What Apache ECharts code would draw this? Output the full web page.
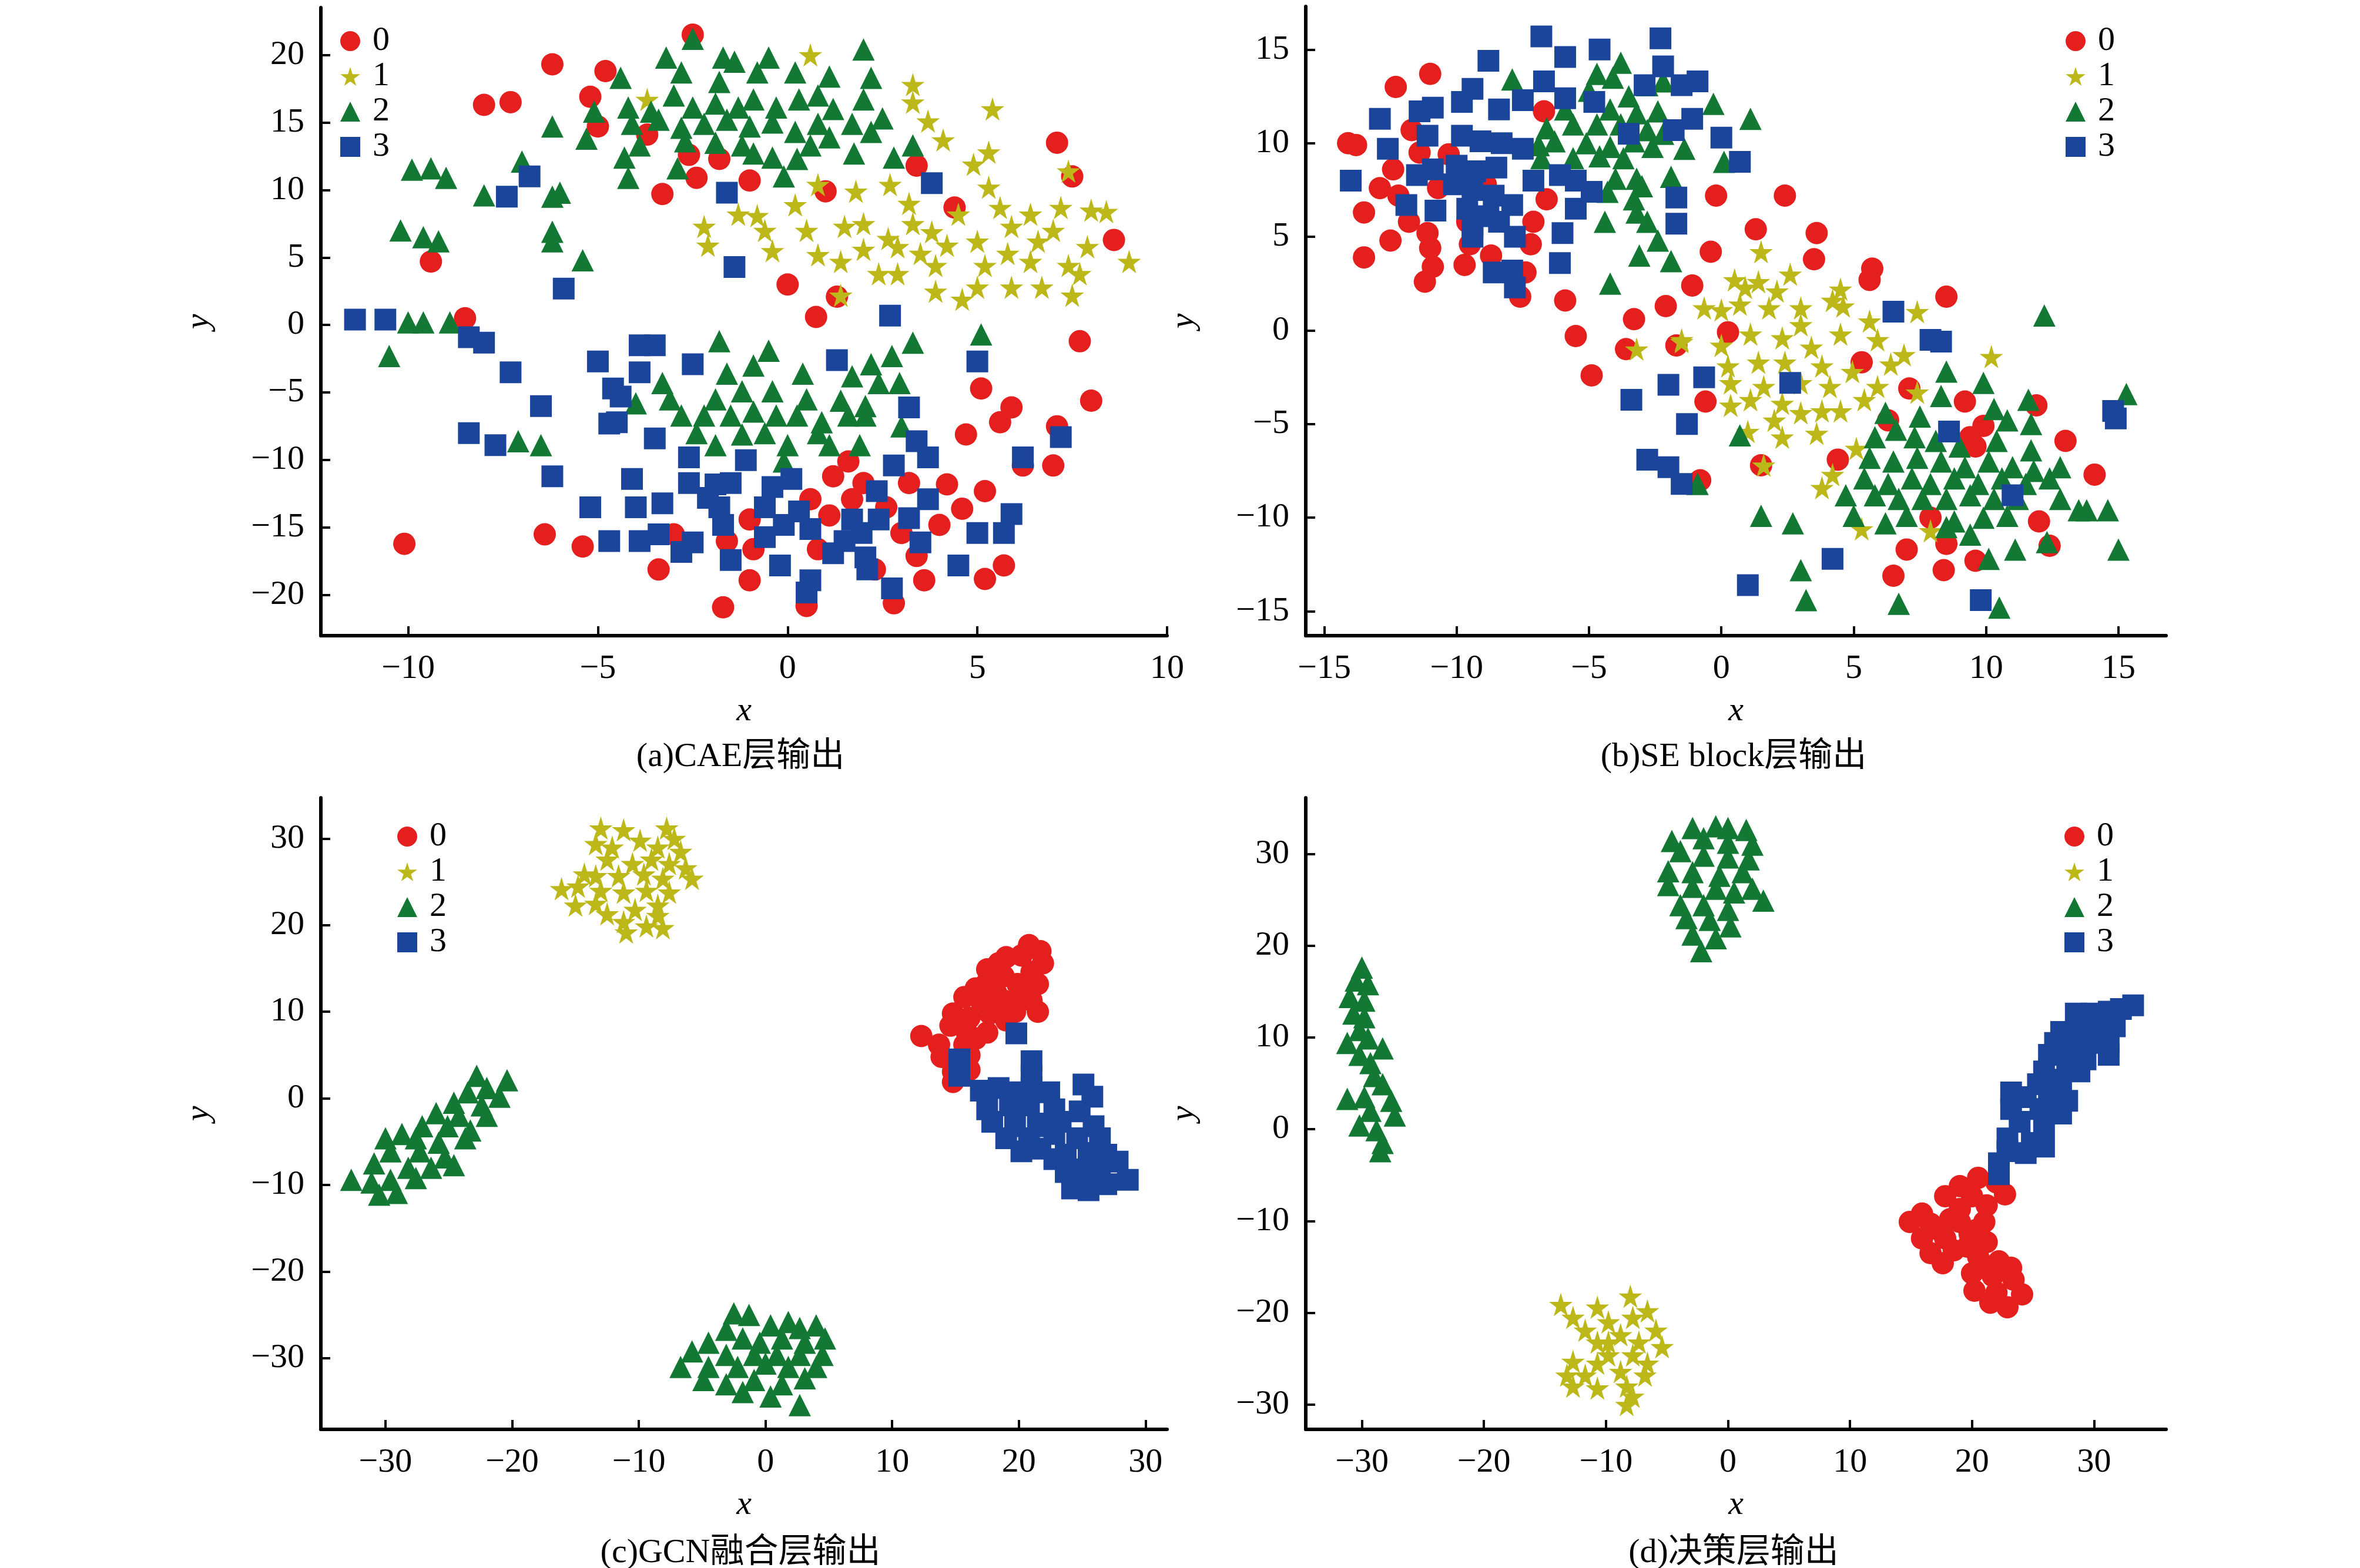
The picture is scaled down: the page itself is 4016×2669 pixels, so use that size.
<!DOCTYPE html>
<html lang="zh">
<head>
<meta charset="UTF-8">
<title>t-SNE 各层输出</title>
<style>
  html, body { margin: 0; padding: 0; background: #fff; }
  #main { width: 4016px; height: 2669px; }
</style>
</head>
<body>
<div id="main"></div>
<script src="https://cdn.jsdelivr.net/npm/echarts@6/dist/echarts.min.js"></script>
<script>
// ---- (a) CAE层输出 ----
var a0 = [[-2.5,21.5],[-6.2,19.3],[-4.8,18.8],[-8.0,16.3],[-7.3,16.5],[-5.2,16.9],[-5.0,14.7],[-3.7,14.1],[-2.6,12.6],[-1.8,12.3],[-1.0,10.7],[-2.4,10.9],[-3.3,9.7],[1.0,9.9],[3.4,11.8],[7.1,13.5],[7.5,11.0],[8.6,6.3],[4.4,8.7],[0.0,3.0],[1.3,2.1],[0.75,0.6],[-9.4,4.7],[-8.5,0.5],[-10.1,-16.2],[7.7,-1.2],[5.1,-4.7],[8.0,-5.6],[5.9,-6.1],[5.6,-7.2],[4.7,-8.1],[7.1,-7.5],[7.0,-10.4],[6.2,-10.4],[1.6,-10.1],[4.2,-11.8],[5.2,-12.3],[3.2,-11.7],[4.6,-13.6],[1.2,-11.2],[2.0,-11.7],[4.0,-14.8],[3.0,-15.4],[0.6,-12.9],[1.1,-14.1],[-1.0,-14.4],[-1.6,-16.0],[-3.0,-15.5],[-0.9,-16.6],[-6.4,-15.5],[-5.4,-16.4],[-3.4,-18.1],[-1.0,-18.9],[-1.7,-20.9],[0.5,-20.8],[2.8,-20.6],[3.6,-18.9],[5.2,-18.8],[5.7,-17.8],[3.4,-17.1],[0.8,-16.6],[2.3,-18.1],[1.7,-12.9],[2.6,-13.5]];
var a1 = [[0.6,20.0],[-3.7,16.7],[3.3,17.8],[3.3,16.5],[3.7,15.1],[5.4,16.0],[4.1,13.7],[5.3,12.8],[4.9,11.9],[7.4,11.4],[5.3,10.2],[0.8,10.4],[1.8,9.9],[2.7,10.4],[-2.2,7.3],[-2.1,5.9],[-1.3,8.2],[-0.8,8.1],[0.2,8.9],[0.5,7.0],[-0.6,7.0],[-0.4,5.5],[0.8,5.2],[1.4,4.7],[1.4,2.2],[2.0,5.6],[1.5,7.3],[2.4,3.8],[2.9,3.8],[2.65,6.4],[3.2,9.0],[3.3,7.5],[3.8,6.9],[3.5,5.3],[3.9,4.4],[3.9,2.5],[4.6,1.9],[4.5,8.2],[5.0,6.2],[5.2,4.4],[5.0,2.8],[5.6,8.7],[5.9,7.3],[6.4,8.2],[5.8,5.3],[5.9,2.8],[6.4,4.7],[6.7,2.8],[7.0,7.0],[7.2,8.7],[6.6,6.2],[7.4,4.4],[7.7,3.8],[7.5,2.2],[7.9,5.8],[8.0,8.5],[8.4,8.4],[9.0,4.7],[2.9,5.8],[2.0,7.5],[4.2,5.9]];
var a2 = [[-2.5,21.2],[-3.2,19.8],[-1.7,19.8],[-1.4,19.5],[-0.5,19.8],[2.0,20.4],[-4.4,18.3],[-2.8,18.7],[-1.8,18.0],[-0.8,18.7],[0.2,18.7],[1.1,18.4],[2.2,18.3],[-5.1,15.8],[-4.2,16.1],[-3.6,15.8],[-3.0,17.0],[-2.5,16.1],[-1.9,16.4],[-1.3,16.1],[-0.9,16.7],[-0.3,16.1],[0.3,16.7],[0.8,17.0],[1.2,16.0],[2.0,16.7],[2.5,15.3],[-6.2,14.7],[-5.3,13.8],[-4.1,14.9],[-3.4,15.2],[-2.8,14.6],[-2.2,14.9],[-1.6,15.2],[-1.0,14.7],[-0.4,15.0],[0.2,14.3],[0.8,14.9],[1.7,14.9],[2.2,14.3],[-4.3,12.4],[-3.9,13.3],[-2.7,13.6],[-1.9,13.5],[-1.2,13.3],[-0.9,12.7],[-0.4,12.4],[0.25,12.3],[0.6,13.3],[1.1,13.9],[1.75,12.7],[2.8,12.4],[3.3,13.3],[-4.2,10.9],[-2.9,11.6],[-0.1,11.0],[-7.0,12.1],[-9.9,11.5],[-9.4,11.6],[-9.0,10.9],[-8.0,9.6],[-6.2,9.5],[-6.0,9.8],[-10.2,7.0],[-9.6,6.5],[-9.2,6.2],[-6.2,6.9],[-6.2,6.2],[-5.4,4.8],[-10.0,0.2],[-9.6,0.2],[-8.9,0.2],[-10.5,-2.3],[-7.1,-8.6],[-6.5,-8.9],
  [-1.8,-1.2],[-0.5,-1.9],[3.3,-1.3],[5.1,-0.7],[2.75,-2.3],[2.2,-2.9],[-3.3,-4.3],[-1.6,-3.6],[-0.9,-3.0],[0.4,-3.6],[1.7,-3.8],[2.4,-4.3],[2.95,-4.3],[-4.0,-5.8],[-3.1,-5.5],[-1.9,-5.5],[-1.2,-4.9],[-0.4,-4.9],[0.5,-5.5],[1.4,-5.6],[2.05,-6.0],[-2.8,-6.7],[-2.2,-6.7],[-1.5,-6.7],[-0.9,-6.4],[-0.3,-6.7],[0.25,-6.7],[0.9,-7.2],[1.6,-6.7],[2.05,-6.7],[-2.4,-8.0],[-1.9,-8.9],[-1.2,-8.1],[-0.6,-8.0],[0.0,-8.9],[0.8,-8.0],[1.1,-8.9],[1.9,-8.9],[3.0,-7.5],[-0.1,-10.1]];
var a3 = [[-11.4,0.4],[-10.6,0.4],[-6.8,11.0],[-7.4,9.5],[-1.6,9.8],[3.8,10.5],[-1.4,4.3],[-5.9,2.7],[2.7,0.7],[-8.4,-0.9],[-8.0,-1.3],[-7.3,-3.5],[-6.5,-6.0],[-3.9,-1.5],[-3.5,-1.5],[-5.0,-2.7],[-3.9,-3.5],[-2.5,-2.9],[1.3,-2.6],[5.0,-2.7],[-4.6,-4.7],[-4.4,-5.3],[3.2,-6.1],[-4.7,-7.3],[-4.5,-7.2],[-3.5,-8.4],[-8.4,-8.0],[-7.7,-8.9],[-6.2,-11.2],[3.4,-8.6],[3.7,-9.8],[6.2,-9.8],[7.2,-8.3],[-2.6,-9.8],[-1.1,-10.0],[-4.1,-11.4],[-5.2,-13.5],[-4.0,-13.5],[-3.3,-13.2],[-2.6,-11.7],[-1.9,-11.8],[-1.5,-11.7],[-0.4,-12.0],[0.1,-11.4],[2.8,-10.4],[2.35,-12.3],[3.7,-12.9],[5.9,-14.0],[3.2,-14.3],[-4.7,-16.0],[-3.9,-16.0],[-3.4,-15.5],[-2.8,-16.8],[-2.5,-16.1],[-1.8,-13.5],[-1.7,-14.8],[-2.1,-12.8],[-0.6,-13.5],[-0.1,-14.8],[-0.6,-15.7],[0.3,-13.8],[0.6,-15.1],[1.7,-14.4],[2.4,-14.4],[1.5,-16.0],[1.95,-15.4],[1.2,-16.9],[2.05,-17.2],[2.1,-18.1],[-1.5,-17.4],[-0.2,-17.8],[0.6,-18.9],[0.5,-19.8],[2.75,-19.5],[3.5,-16.1],[4.5,-17.8],[5.0,-15.4],[5.7,-15.4]];

// ---- (b) SE block层输出 ----
var b0 = [[-14.1,10.0],[-13.8,9.9],[-12.3,13.0],[-11.0,13.7],[-11.7,10.7],[-11.4,9.5],[-12.4,8.6],[-12.9,7.6],[-13.5,6.3],[-12.2,7.2],[-11.8,5.8],[-12.5,4.8],[-13.5,3.9],[-11.1,5.2],[-11.0,4.4],[-10.9,3.4],[-11.2,2.6],[-9.7,3.5],[-9.5,4.6],[-10.3,9.4],[-10.7,7.6],[-8.7,4.0],[-7.4,3.1],[-7.6,1.8],[-7.1,5.8],[-7.2,4.6],[-6.6,7.0],[-6.7,11.7],[-5.9,1.6],[-3.3,0.6],[-2.1,1.3],[-5.5,-0.3],[-3.6,-1.0],[-1.7,-0.8],[-4.9,-2.4],[0.25,-0.1],[-0.6,-3.8],[-1.1,2.4],[-0.4,4.2],[-0.2,7.2],[1.3,5.4],[2.4,7.2],[3.6,5.2],[3.5,3.8],[5.7,3.3],[5.6,2.7],[8.5,1.8],[5.3,-1.7],[7.1,-3.1],[9.2,-3.8],[11.9,-4.0],[9.9,-5.1],[13.0,-5.9],[14.1,-7.7],[6.3,-4.8],[4.4,-6.9],[1.5,-7.2],[-0.8,-8.0],[7.9,-10.0],[12.0,-10.2],[12.4,-11.5],[7.0,-11.7],[8.5,-11.4],[8.4,-12.8],[9.6,-12.3],[6.5,-13.1],[9.4,-5.7],[9.6,-6.2],[-9.6,5.8],[-8.9,7.8]];
var b1 = [[1.5,4.2],[2.6,3.0],[0.5,2.7],[0.9,2.3],[1.4,2.6],[2.1,2.1],[-0.65,1.2],[0.0,1.1],[0.7,1.4],[1.8,1.2],[3.0,1.2],[4.2,1.6],[4.5,2.2],[4.6,1.3],[5.6,0.5],[7.4,1.0],[10.2,-1.4],[-1.5,-0.6],[-3.2,-1.0],[0.0,-0.8],[1.1,-0.2],[2.3,-0.4],[3.0,0.3],[3.4,-0.9],[4.5,-0.2],[5.9,-0.5],[6.9,-1.3],[6.4,-1.8],[0.25,-1.9],[1.4,-1.7],[2.4,-1.7],[3.8,-1.9],[4.95,-2.2],[5.9,-3.0],[0.35,-2.8],[1.6,-3.0],[3.0,-2.8],[4.1,-3.0],[5.4,-3.7],[0.35,-4.0],[1.1,-3.7],[2.3,-3.9],[3.0,-4.4],[3.8,-4.3],[4.5,-4.3],[1.0,-5.4],[2.0,-4.8],[2.3,-5.7],[3.6,-5.5],[7.4,-3.3],[1.6,-7.2],[5.1,-6.3],[4.2,-7.7],[3.8,-8.4],[5.3,-10.6],[7.9,-10.7],[-1.5,-0.5]];
var b2 = [[-7.9,13.4],[-4.7,13.7],[-3.8,14.3],[-4.1,13.5],[-5.0,12.8],[-3.5,12.5],[-2.8,13.1],[-2.2,13.3],[-0.3,12.1],[1.1,11.3],[-5.9,11.8],[-4.2,11.8],[-3.2,11.6],[-2.4,11.7],[-6.6,10.8],[-5.6,11.0],[-4.7,11.0],[-3.8,11.0],[-2.8,10.7],[-2.2,10.5],[-6.9,9.9],[-6.3,10.1],[-5.1,10.0],[-4.2,9.8],[-3.3,10.1],[-2.6,9.8],[-1.4,9.7],[-6.8,9.2],[-5.6,9.2],[-4.6,9.3],[-3.7,9.2],[0.1,9.0],[-4.0,8.1],[-3.2,8.1],[-1.9,8.2],[-3.0,7.7],[-4.3,7.4],[-3.3,7.0],[-3.2,6.3],[-2.8,5.8],[-4.4,5.8],[-2.4,4.8],[-1.9,3.7],[-3.1,4.0],[-4.2,2.5],[12.2,0.8],[0.7,-5.6],[-0.9,-8.2],[1.5,-9.9],[2.7,-10.3],[3.0,-12.8],[3.2,-14.4],[6.7,-14.6],[10.5,-14.8],[15.0,-11.7],[15.3,-3.4],[8.5,-2.2],[9.9,-2.8],[11.6,-3.7],
  [6.2,-4.4],[7.5,-4.6],[8.3,-3.5],[10.3,-4.2],[10.8,-4.8],[11.7,-5.0],[5.8,-5.7],[6.6,-5.3],[7.3,-5.7],[8.1,-5.9],[9.0,-6.2],[10.4,-5.9],[11.7,-6.4],[5.6,-6.8],[6.5,-7.0],[7.4,-6.8],[8.3,-7.0],[9.2,-7.3],[10.1,-7.0],[11.0,-7.3],[11.8,-7.5],[12.8,-7.3],[5.4,-7.9],[6.3,-8.2],[7.2,-7.9],[7.9,-8.2],[8.8,-7.9],[9.7,-8.2],[10.6,-7.9],[11.5,-8.2],[12.4,-7.9],[4.7,-8.8],[5.8,-8.8],[6.7,-9.0],[7.6,-9.0],[8.5,-9.0],[9.4,-8.8],[10.3,-9.0],[11.2,-9.0],[12.8,-9.0],[5.0,-9.9],[6.2,-10.3],[7.0,-9.9],[8.8,-10.2],[9.9,-10.0],[10.8,-9.9],[13.5,-9.6],[13.8,-9.6],[14.6,-9.6],[9.4,-10.9],[10.1,-12.2],[11.1,-11.7],[12.3,-11.3],[8.5,-10.5]];
var b3 = [[-6.8,15.7],[-5.9,14.6],[-4.6,15.0],[-2.3,15.6],[-8.8,14.4],[-2.2,14.1],[-2.9,13.1],[-1.5,13.1],[-0.9,13.3],[-6.7,13.3],[-9.4,12.9],[-9.8,12.2],[-11.4,11.7],[-12.9,11.3],[-10.9,11.9],[-8.4,11.8],[-7.5,12.3],[-5.9,12.4],[-4.8,12.2],[-3.5,10.5],[-1.8,10.7],[-1.1,11.3],[0.0,10.3],[0.7,9.0],[-12.6,9.7],[-11.1,10.4],[-9.8,10.4],[-9.1,10.1],[-8.3,10.0],[-7.5,9.7],[-14.0,8.0],[-11.5,8.3],[-10.9,8.6],[-10.0,8.8],[-9.3,8.5],[-8.5,8.7],[-7.1,8.0],[-6.1,8.3],[-5.5,8.0],[-4.9,7.4],[-10.1,7.8],[-9.4,7.5],[-8.6,7.2],[-7.9,6.7],[-11.9,6.7],[-10.8,6.4],[-9.6,6.5],[-8.8,6.1],[-9.4,5.6],[-8.4,5.8],[-7.8,5.0],[-9.4,5.0],[-5.5,6.5],[-6.0,5.2],[-1.7,7.1],[-1.7,5.7],[-6.1,3.6],[-8.6,3.1],[-7.9,3.2],[-7.8,2.3],[-0.65,-2.5],[-2.0,-2.9],[-3.4,-3.7],[-1.3,-5.0],[-2.8,-6.9],[-2.0,-7.3],[-1.5,-8.2],[2.6,-2.8],[6.5,1.0],[7.9,-0.5],[8.3,-0.6],[8.6,-5.4],[11.0,-8.8],[14.8,-4.3],[14.9,-4.7],[4.2,-12.2],[1.0,-13.6],[9.8,-14.4]];

// ---- (c) GCN融合层输出 ----
var c0 = [[20.8,17.7],[21.7,17.0],[20.2,16.5],[19.0,16.3],[21.9,15.6],[21.0,14.6],[17.5,14.9],[18.8,14.1],[19.9,13.2],[21.5,13.2],[16.6,12.7],[18.2,12.2],[15.7,11.7],[17.0,11.3],[18.8,11.3],[21.0,11.3],[21.5,10.0],[14.8,9.8],[16.1,9.3],[17.7,9.8],[19.7,10.0],[14.6,8.4],[15.9,7.6],[17.5,7.6],[12.3,7.2],[13.7,6.2],[15.7,6.2],[16.6,6.9],[13.9,4.8],[16.1,5.0],[14.8,3.1],[16.1,3.3],[14.8,1.9],[17.4,13.2],[20.3,12.0],[19.0,9.0],[18.4,15.6],[15.0,4.2]];
var c1 = [[-13.0,31.2],[-11.2,31.0],[-7.8,31.2],[-7.2,30.0],[-13.4,29.4],[-12.1,29.0],[-9.9,29.8],[-8.5,29.0],[-6.7,28.5],[-12.5,27.6],[-10.5,27.1],[-9.0,27.6],[-7.6,27.1],[-6.3,26.6],[-5.8,25.4],[-14.3,25.9],[-13.4,25.7],[-11.6,25.7],[-9.6,25.9],[-8.1,25.4],[-16.1,24.2],[-14.8,24.5],[-13.0,24.0],[-11.2,23.8],[-9.4,24.0],[-7.6,23.8],[-15.0,22.3],[-13.4,22.5],[-12.5,21.3],[-10.3,21.8],[-8.5,22.3],[-11.2,20.4],[-11.0,19.2],[-9.4,19.9],[-8.1,19.7],[-8.5,21.1]];
var c2 = [[-22.8,2.6],[-20.4,2.1],[-22.0,1.2],[-23.5,0.7],[-21.0,0.2],[-24.6,-0.5],[-22.4,-0.8],[-26.0,-1.7],[-24.2,-2.0],[-22.0,-2.0],[-27.1,-3.2],[-25.1,-3.2],[-23.3,-3.7],[-30.0,-4.6],[-28.7,-4.1],[-27.6,-4.6],[-25.8,-5.1],[-23.7,-4.6],[-29.6,-6.1],[-27.3,-6.1],[-25.3,-6.8],[-30.9,-7.5],[-28.2,-8.0],[-26.4,-8.0],[-24.6,-7.7],[-32.7,-9.4],[-31.1,-9.7],[-29.6,-9.4],[-27.6,-9.2],[-30.5,-11.1],[-29.1,-10.9],
  [-2.5,-24.8],[-1.3,-25.0],[1.8,-25.8],[4.0,-26.2],[0.4,-26.2],[2.7,-26.5],[-3.1,-26.7],[-4.5,-28.2],[-1.8,-27.7],[-0.45,-28.2],[1.3,-27.7],[3.1,-28.2],[4.7,-27.7],[-5.8,-29.2],[-3.1,-29.6],[-0.9,-29.6],[0.9,-29.6],[2.7,-29.6],[4.5,-29.6],[-6.7,-31.0],[-4.5,-31.0],[-2.2,-31.0],[0.0,-30.6],[1.8,-31.0],[4.0,-31.0],[-4.9,-32.5],[-3.1,-33.0],[-0.9,-32.5],[1.3,-33.0],[3.1,-32.3],[-1.8,-33.9],[0.4,-34.4],[2.7,-35.4]];
var c3 = [[19.8,7.5],[15.3,4.5],[15.3,2.6],[21.0,4.3],[21.0,2.6],[17.0,0.9],[18.4,1.2],[19.7,0.7],[21.0,1.2],[22.4,0.7],[25.1,1.6],[25.8,0.2],[17.5,-1.25],[19.3,-0.8],[20.8,-0.8],[22.8,-1.25],[24.8,-1.5],[17.9,-2.7],[19.7,-3.2],[21.5,-2.9],[23.3,-2.7],[25.9,-3.2],[19.0,-4.6],[20.8,-4.6],[22.8,-4.1],[24.6,-4.6],[26.4,-4.6],[20.2,-6.1],[21.7,-5.8],[23.7,-6.5],[25.5,-6.3],[26.9,-6.5],[27.8,-7.3],[23.7,-8.5],[25.1,-8.2],[26.4,-8.5],[28.6,-9.4],[24.2,-10.4],[25.5,-10.6],[26.9,-9.9],[22.8,-7.0],[21.9,-3.2]];

// ---- (d) 决策层输出 ----
var d0 = [[20.5,-5.3],[22.0,-5.8],[19.0,-6.2],[22.7,-7.1],[17.8,-7.3],[20.0,-7.3],[21.2,-8.3],[19.0,-8.7],[15.9,-9.2],[14.9,-10.1],[16.6,-10.3],[19.0,-10.1],[21.0,-10.1],[15.9,-11.9],[17.8,-11.9],[19.8,-11.4],[21.2,-12.3],[16.6,-13.5],[18.5,-13.2],[17.6,-14.6],[20.5,-13.9],[22.2,-14.4],[23.2,-15.1],[20.0,-15.7],[21.7,-16.0],[23.4,-16.4],[20.2,-17.6],[22.0,-17.8],[24.1,-18.0],[21.5,-18.9],[22.9,-19.4],[18.2,-9.8],[17.2,-10.9],[20.3,-11.0],[21.2,-15.2],[19.6,-12.8]];
var d1 = [[-13.7,-19.1],[-10.7,-19.4],[-8.0,-18.2],[-6.6,-19.8],[-12.7,-20.5],[-9.8,-21.0],[-7.8,-20.5],[-5.9,-21.9],[-11.7,-21.9],[-8.8,-22.4],[-7.3,-23.2],[-10.7,-23.2],[-5.4,-23.7],[-9.8,-24.6],[-7.8,-24.6],[-12.7,-25.3],[-10.7,-25.5],[-6.6,-25.5],[-13.2,-26.8],[-11.7,-26.8],[-8.8,-26.4],[-6.8,-26.8],[-12.7,-28.0],[-10.7,-28.2],[-8.3,-28.0],[-7.8,-29.1],[-8.3,-30.0],[-9.8,-23.2]];
var d2 = [[-2.9,32.8],[-1.0,33.0],[0,32.8],[1.5,32.6],[-4.6,31.4],[-2.0,31.7],[0,31.2],[2.0,31.0],[-3.9,30.3],[-2.0,29.8],[0,29.6],[1.7,29.4],[-4.9,28.1],[-2.9,28.0],[-0.7,27.6],[1.2,28.0],[-4.9,26.6],[-2.9,26.4],[-1.0,26.2],[0.5,25.8],[2.0,26.2],[2.9,24.9],[-3.9,24.4],[-2.0,24.4],[0,23.9],[-3.4,23.0],[-1.5,22.8],[0.2,22.1],[-2.9,21.2],[-1.0,20.8],[-2.2,19.4],
  [-30.0,17.6],[-30.5,16.2],[-29.5,15.8],[-31.0,14.4],[-29.8,14.0],[-30.7,12.6],[-29.8,12.2],[-30.2,10.8],[-31.2,9.4],[-29.5,9.9],[-28.3,8.8],[-30.2,8.1],[-29.3,7.2],[-29.0,5.8],[-28.3,4.9],[-31.2,3.3],[-29.8,3.5],[-27.6,3.1],[-29.3,2.0],[-27.3,1.5],[-30.2,0.4],[-28.8,-0.1],[-28.3,-1.5],[-28.5,-2.4]];
var d3 = [[33.2,13.5],[32.2,13.1],[31.2,12.8],[29.8,12.6],[28.5,12.6],[31.7,11.2],[30.2,11.2],[28.8,11.2],[27.3,10.6],[31.2,9.4],[29.8,9.4],[28.3,9.2],[26.8,9.4],[31.2,8.1],[29.3,7.6],[26.3,8.1],[27.8,7.2],[25.9,6.3],[28.8,6.3],[27.3,5.4],[25.4,4.9],[23.2,4.0],[26.3,4.0],[24.4,3.5],[27.8,3.1],[23.2,2.2],[25.6,2.2],[27.3,1.7],[23.9,0.8],[25.9,0.4],[22.9,-1.0],[24.9,-1.5],[25.9,-1.9],[22.9,-2.4],[24.4,-2.6],[22.2,-3.7],[22.2,-4.9]];

var classNames = ['0', '1', '2', '3'];
var panelTitles = ['(a)CAE层输出', '(b)SE block层输出', '(c)GCN融合层输出', '(d)决策层输出'];
var panelData = [[a0, a1, a2, a3], [b0, b1, b2, b3], [c0, c1, c2, c3], [d0, d1, d2, d3]];
var xRanges = [[-12.3, 10], [-15.7, 16.8], [-35.1, 31.7], [-34.6, 35.9]];
var yRanges = [[-23.0, 23.5], [-16.3, 17.3], [-38.2, 34.7], [-32.7, 36.1]];
var xTicks = [[-10, -5, 0, 5, 10], [-15, -10, -5, 0, 5, 10, 15], [-30, -20, -10, 0, 10, 20, 30], [-30, -20, -10, 0, 10, 20, 30]];
var yTicks = [[-20, -15, -10, -5, 0, 5, 10, 15, 20], [-15, -10, -5, 0, 5, 10, 15], [-30, -20, -10, 0, 10, 20, 30], [-30, -20, -10, 0, 10, 20, 30]];

var colors = ['#e41f1d', '#bdb81a', '#137834', '#1a459b'];
var star = 'path://M50,0 L61,35 L98,35 L68,57 L79,91 L50,70 L21,91 L32,57 L2,35 L39,35 Z';
var symbols = ['circle', star, 'triangle', 'rect'];
var sizes = [38, 40, 38, 37];

var serif = "'Liberation Serif', 'DejaVu Serif', 'Noto Sans CJK SC', serif";

var grids = [
  { left: 546, right: 2030, top: 13, bottom: 1587 },
  { left: 2222, right: 330, top: 11, bottom: 1587 },
  { left: 546, right: 2030, top: 1358, bottom: 236 },
  { left: 2222, right: 330, top: 1358, bottom: 236 }
];
var legendPos = [
  { left: 574, top: 36 }, { left: 3510, top: 36 },
  { left: 671, top: 1390 }, { left: 3508, top: 1390 }
];
var titlePos = [[1255, 1255], [2945, 1255], [1255, 2610], [2945, 2610]];

function fmt(v) { return v < 0 ? '\u2212' + (-v) : '' + v; }

function makeAxis(i, range, ticks, isX) {
  return {
    type: 'value', gridIndex: i, min: range[0], max: range[1],
    name: isX ? 'x' : 'y', nameLocation: 'middle', nameGap: isX ? 100 : 178,
    nameRotate: isX ? 0 : 90,
    nameTextStyle: { fontFamily: serif, fontStyle: 'italic', fontSize: 58, color: '#000' },
    splitLine: { show: false },
    axisLine: { onZero: false, lineStyle: { color: '#000', width: 6 } },
    axisTick: { inside: true, length: 16, lineStyle: { color: '#000', width: 4 }, customValues: ticks },
    axisLabel: { customValues: ticks, formatter: fmt, margin: 28, fontFamily: serif, fontSize: 58, color: '#000' }
  };
}

var option = {
  backgroundColor: '#fff',
  animation: false,
  grid: grids,
  xAxis: [], yAxis: [], series: [], legend: [], title: []
};

for (var i = 0; i < 4; i++) {
  option.xAxis.push(makeAxis(i, xRanges[i], xTicks[i], true));
  option.yAxis.push(makeAxis(i, yRanges[i], yTicks[i], false));
  for (var k = 0; k < 4; k++) {
    option.series.push({
      type: 'scatter', name: classNames[k], xAxisIndex: i, yAxisIndex: i,
      symbol: symbols[k], symbolSize: sizes[k],
      itemStyle: { color: colors[k], opacity: 1 },
      data: panelData[i][k]
    });
  }
  option.legend.push({
    data: classNames, orient: 'vertical', left: legendPos[i].left, top: legendPos[i].top,
    itemWidth: 34, itemHeight: 34, itemGap: 2, selectedMode: false,
    textStyle: { fontFamily: serif, fontSize: 58, lineHeight: 57, color: '#000', padding: [0, 0, 0, 16] }
  });
  option.title.push({
    text: panelTitles[i], left: titlePos[i][0], top: titlePos[i][1], textAlign: 'center',
    textStyle: { fontFamily: serif, fontSize: 58, fontWeight: 'normal', color: '#000' }
  });
}

var chart = echarts.init(document.getElementById('main'));
chart.setOption(option);
</script>
</body>
</html>
